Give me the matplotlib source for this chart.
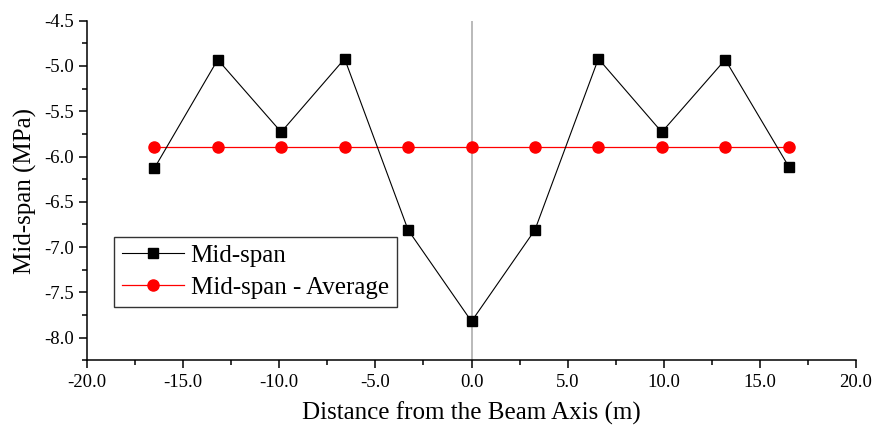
import matplotlib
matplotlib.use('Agg')
import matplotlib.pyplot as plt
from matplotlib.ticker import MultipleLocator, FormatStrFormatter

# distance from the beam axis (m)
distance = [-16.5, -13.2, -9.9, -6.6, -3.3, 0.0, 3.3, 6.6, 9.9, 13.2, 16.5]
# mid-span stress (MPa)
midspan = [-6.13, -4.93, -5.73, -4.92, -6.81, -7.82, -6.81, -4.92, -5.73, -4.93, -6.11]
# average of the mid-span values
average = [-5.89] * len(distance)

plt.rcParams['font.family'] = ['Liberation Serif', 'DejaVu Serif']

fig = plt.figure(figsize=(8.8, 4.26), dpi=100)
ax = fig.add_axes([0.0989, 0.1542, 0.8738, 0.7972])

ax.axvline(0, color='#b4b4b4', lw=1.3, zorder=1)
ax.plot(distance, midspan, color='black', lw=0.8, marker='s', ms=7.5,
        label='Mid-span', zorder=3)
ax.plot(distance, average, color='red', lw=0.9, marker='o', ms=8,
        label='Mid-span - Average', zorder=2)

ax.set_xlim(-20, 20)
ax.set_ylim(-8.25, -4.5)
ax.xaxis.set_major_locator(MultipleLocator(5))
ax.xaxis.set_minor_locator(MultipleLocator(2.5))
ax.yaxis.set_major_locator(MultipleLocator(0.5))
ax.yaxis.set_minor_locator(MultipleLocator(0.25))
ax.xaxis.set_major_formatter(FormatStrFormatter('%.1f'))
ax.yaxis.set_major_formatter(FormatStrFormatter('%.1f'))

for side in ['top', 'right']:
    ax.spines[side].set_visible(False)
for side in ['left', 'bottom']:
    ax.spines[side].set_linewidth(1.1)

ax.tick_params(which='major', direction='out', length=6, width=1.1, labelsize=13.5)
ax.tick_params(which='minor', direction='out', length=3.5, width=1.1)

ax.set_xlabel('Distance from the Beam Axis (m)', fontsize=18, labelpad=8)
ax.set_ylabel('Mid-span (MPa)', fontsize=18, labelpad=5)

leg = ax.legend(loc='upper left', bbox_to_anchor=(0.035, 0.364), fontsize=18,
                frameon=True, fancybox=False, edgecolor='black',
                handlelength=2.5, borderpad=0.32, labelspacing=0.38,
                handletextpad=0.25, borderaxespad=0)
leg.get_frame().set_linewidth(1.0)

fig.savefig('out.png', dpi=100)
